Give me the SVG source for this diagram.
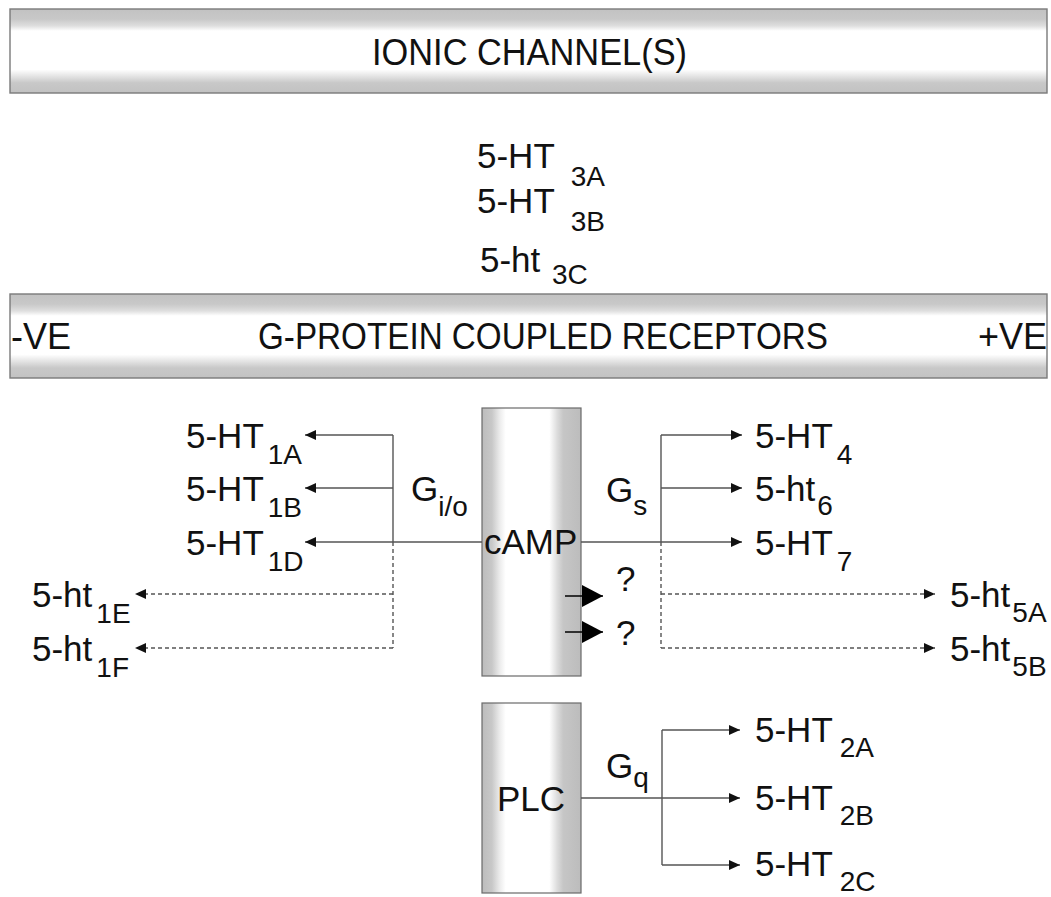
<svg xmlns="http://www.w3.org/2000/svg" width="1051" height="897" viewBox="0 0 1051 897">
<style>
text{font-family:"Liberation Sans",Arial,sans-serif;fill:#111;}
.t{font-size:35px;}
.s{font-size:28px;}
.hd{font-size:36px;}
.ln{fill:none;stroke:#555;stroke-width:1.4;}
.dl{fill:none;stroke:#555;stroke-width:1.4;stroke-dasharray:4 3;}
.bx{stroke:#6a6a6a;stroke-width:1.2;fill:url(#gv);}
.bar{stroke:#7a7a7a;stroke-width:1.4;fill:url(#gh);}
</style>
<defs>
<linearGradient id="gh" x1="0" y1="0" x2="0" y2="1">
<stop offset="0" stop-color="#c2c2c2"/>
<stop offset="0.12" stop-color="#c8c8c8"/>
<stop offset="0.2" stop-color="#dedede"/>
<stop offset="0.26" stop-color="#ffffff"/>
<stop offset="0.72" stop-color="#ffffff"/>
<stop offset="0.8" stop-color="#e4e4e4"/>
<stop offset="0.88" stop-color="#c8c8c8"/>
<stop offset="1" stop-color="#c2c2c2"/>
</linearGradient>
<linearGradient id="gv" x1="0" y1="0" x2="1" y2="0">
<stop offset="0" stop-color="#bcbcbc"/>
<stop offset="0.1" stop-color="#c8c8c8"/>
<stop offset="0.18" stop-color="#ececec"/>
<stop offset="0.24" stop-color="#ffffff"/>
<stop offset="0.68" stop-color="#ffffff"/>
<stop offset="0.76" stop-color="#dcdcdc"/>
<stop offset="0.82" stop-color="#c6c6c6"/>
<stop offset="1" stop-color="#bcbcbc"/>
</linearGradient>
<marker id="ah" markerUnits="userSpaceOnUse" markerWidth="11" markerHeight="10" refX="11" refY="5" orient="auto">
<path d="M0,0 L11,5 L0,10 z" fill="#111"/>
</marker>
<marker id="big" markerUnits="userSpaceOnUse" markerWidth="21" markerHeight="22" refX="21" refY="11" orient="auto">
<path d="M0,0 L21,11 L0,22 z" fill="#000"/>
</marker>
</defs>

<g id="ionic-bar">
<rect class="bar" x="10" y="9" width="1037" height="84"/>
<text class="hd" x="372" y="65" textLength="315" lengthAdjust="spacingAndGlyphs">IONIC CHANNEL(S)</text>
</g>

<g id="ht3">
<text class="t" x="477" y="168">5-HT<tspan class="s" dx="16" dy="18">3A</tspan></text>
<text class="t" x="477" y="213">5-HT<tspan class="s" dx="16" dy="18">3B</tspan></text>
<text class="t" x="480" y="272">5-ht <tspan class="s" dx="2" dy="12">3C</tspan></text>
</g>

<g id="gpcr-bar">
<rect class="bar" x="10" y="294" width="1037" height="84"/>
<text class="hd" x="11" y="349">-VE</text>
<text class="hd" x="258" y="349" textLength="570" lengthAdjust="spacingAndGlyphs">G-PROTEIN COUPLED RECEPTORS</text>
<text class="hd" x="1047" y="349" text-anchor="end">+VE</text>
</g>

<g id="camp">
<rect class="bx" x="482" y="408" width="99" height="268"/>
<text class="t" x="484" y="554">cAMP</text>
<text class="t" x="616" y="591">?</text>
<text class="t" x="616" y="645">?</text>
</g>

<g id="plc">
<rect class="bx" x="482" y="703" width="99" height="190"/>
<text class="t" x="497" y="811">PLC</text>
</g>

<g id="g-labels">
<text class="t" x="411" y="501">G<tspan class="s" dy="15">i/o</tspan></text>
<text class="t" x="606" y="502">G<tspan class="s" dy="13">s</tspan></text>
<text class="t" x="606" y="778">G<tspan class="s" dy="9">q</tspan></text>
</g>

<g id="ht1">
<text class="t" x="186" y="448">5-HT<tspan class="s" dx="4" dy="16">1A</tspan></text>
<text class="t" x="186" y="501">5-HT<tspan class="s" dx="4" dy="16">1B</tspan></text>
<text class="t" x="186" y="555">5-HT<tspan class="s" dx="4" dy="16">1D</tspan></text>
<text class="t" x="32" y="607">5-ht<tspan class="s" dx="4" dy="16">1E</tspan></text>
<text class="t" x="32" y="661">5-ht<tspan class="s" dx="4" dy="16">1F</tspan></text>
</g>

<g id="ht4-7">
<text class="t" x="755" y="448">5-HT<tspan class="s" dx="4" dy="16">4</tspan></text>
<text class="t" x="755" y="501">5-ht<tspan class="s" dx="2" dy="14">6</tspan></text>
<text class="t" x="755" y="555">5-HT<tspan class="s" dx="4" dy="16">7</tspan></text>
</g>

<g id="ht5">
<text class="t" x="950" y="607">5-ht<tspan class="s" dx="2" dy="15">5A</tspan></text>
<text class="t" x="950" y="661">5-ht<tspan class="s" dx="2" dy="15">5B</tspan></text>
</g>

<g id="ht2">
<text class="t" x="755" y="742">5-HT<tspan class="s" dx="7" dy="15">2A</tspan></text>
<text class="t" x="755" y="810">5-HT<tspan class="s" dx="7" dy="15">2B</tspan></text>
<text class="t" x="755" y="876">5-HT<tspan class="s" dx="7" dy="15">2C</tspan></text>
</g>

<g id="connectors">
<path class="ln" d="M393,435 V542"/>
<path class="ln" d="M393,435 H305" marker-end="url(#ah)"/>
<path class="ln" d="M393,488 H305" marker-end="url(#ah)"/>
<path class="ln" d="M482,542 H305" marker-end="url(#ah)"/>
<path class="dl" d="M393,542 V648"/>
<path class="dl" d="M393,594 H135" marker-end="url(#ah)"/>
<path class="dl" d="M393,648 H135" marker-end="url(#ah)"/>

<path class="ln" d="M661,435 V542"/>
<path class="ln" d="M661,435 H742" marker-end="url(#ah)"/>
<path class="ln" d="M661,488 H742" marker-end="url(#ah)"/>
<path class="ln" d="M581,542 H742" marker-end="url(#ah)"/>
<path class="dl" d="M661,542 V648"/>
<path class="dl" d="M661,594 H935" marker-end="url(#ah)"/>
<path class="dl" d="M661,648 H935" marker-end="url(#ah)"/>

<path d="M565,596 H603" stroke="#000" stroke-width="1.6" marker-end="url(#big)"/>
<path d="M565,632 H603" stroke="#000" stroke-width="1.6" marker-end="url(#big)"/>

<path class="ln" d="M581,798 H740" marker-end="url(#ah)"/>
<path class="ln" d="M662,730 V865"/>
<path class="ln" d="M662,730 H740" marker-end="url(#ah)"/>
<path class="ln" d="M662,865 H740" marker-end="url(#ah)"/>
</g>
</svg>
